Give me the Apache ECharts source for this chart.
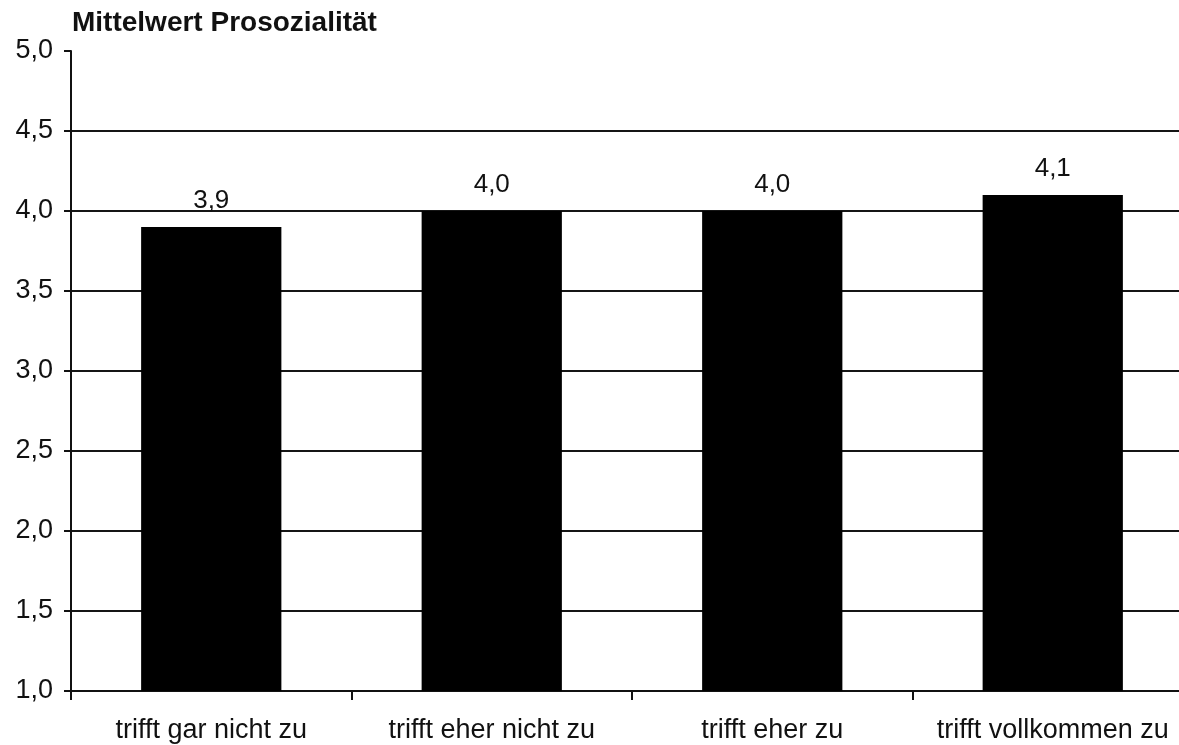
<!DOCTYPE html>
<html>
<head>
<meta charset="utf-8">
<script src="https://cdn.jsdelivr.net/npm/echarts@6/dist/echarts.min.js"></script>
<style>
  html, body { margin: 0; padding: 0; background: #fff; overflow: hidden; }
  #chart { width: 1179px; height: 745px; }
</style>
</head>
<body>
<div id="chart"></div>
<script>
const categories = ['trifft gar nicht zu', 'trifft eher nicht zu', 'trifft eher zu', 'trifft vollkommen zu'];
const values = [3.9, 4.0, 4.0, 4.1];
const titleText = 'Mittelwert Prosozialität';
const yMin = 1.0, yMax = 5.0, yStep = 0.5;

const fontFamily = '"Liberation Sans", Arial, Helvetica, sans-serif';
const fmt = v => v.toFixed(1).replace('.', ',');

// one colour per horizontal rule, the last (top) one left out
const ruleCount = Math.round((yMax - yMin) / yStep) + 1;
const ruleColors = [];
for (let i = 0; i < ruleCount; i++) ruleColors.push(i === ruleCount - 1 ? 'rgba(0,0,0,0)' : '#151515');

const chart = echarts.init(document.getElementById('chart'));
chart.setOption({
  backgroundColor: '#fff',
  animation: false,
  title: {
    text: titleText,
    left: 67,
    top: 4,
    textStyle: { fontFamily, fontSize: 28, fontWeight: 'bold', color: '#111' }
  },
  grid: { left: 71, top: 51, width: 1122, height: 640, containLabel: false, outerBoundsMode: 'none' },
  xAxis: {
    type: 'category',
    data: categories,
    axisLine: { show: true, lineStyle: { color: '#111', width: 2 } },
    axisTick: { show: true, interval: 0, alignWithLabel: false, length: 9, lineStyle: { color: '#111', width: 2 } },
    axisLabel: { interval: 0, fontFamily, fontSize: 27, color: '#111', margin: 26 },
    splitLine: { show: false }
  },
  yAxis: {
    type: 'value',
    min: yMin,
    max: yMax,
    interval: yStep,
    axisLine: { show: true, lineStyle: { color: '#111', width: 2 } },
    axisTick: { show: true, length: 7, lineStyle: { color: '#111', width: 2 } },
    axisLabel: { fontFamily, fontSize: 27, color: '#111', margin: 18, formatter: v => fmt(v) },
    splitLine: { show: true, lineStyle: { color: ruleColors, width: 2 } }
  },
  series: [{
    type: 'bar',
    data: values,
    barWidth: '50%',
    itemStyle: { color: '#000' },
    label: {
      show: true,
      position: 'top',
      distance: 13,
      fontFamily,
      fontSize: 26,
      color: '#111',
      formatter: p => fmt(p.value)
    }
  }]
});
</script>
</body>
</html>
